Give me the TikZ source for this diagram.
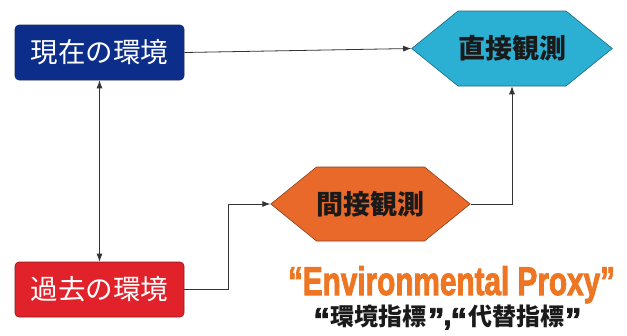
\documentclass[tikz,border=0pt]{standalone}
\usepackage{fontspec}
\usepackage{graphicx}
\usetikzlibrary{arrows.meta,shapes.symbols}
\setmainfont{Liberation Sans}
\newfontfamily\jp{Noto Sans CJK JP}
\newfontfamily\heavy{Liberation Sans}[BoldFeatures={FakeBold=2.5}]
\newcommand\bigq[1]{\raisebox{-6pt}[18pt][0pt]{\fontsize{33}{33}\selectfont\heavy\bfseries #1}}
\newcommand\jcomma{{\fontsize{29}{29}\selectfont\heavy\bfseries ,}}
\definecolor{navy}{HTML}{0C2E8A}
\definecolor{navyedge}{HTML}{1A2A60}
\definecolor{boxred}{HTML}{E1222A}
\definecolor{rededge}{HTML}{8A1A1A}
\definecolor{cyanhex}{HTML}{2BB0D3}
\definecolor{orangehex}{HTML}{E8692A}
\definecolor{proxyorange}{HTML}{EE7623}
\definecolor{linegray}{HTML}{333333}
\definecolor{hextext}{HTML}{1A1A1A}
\tikzset{
  envbox/.style={rectangle, rounded corners=4pt, minimum width=169pt, minimum height=55pt,
    inner sep=0pt, draw=#1, line width=0.6pt, text=white, font=\jp\fontsize{27.5}{27.5}\selectfont},
  hexnode/.style={signal, signal to=east and west, signal pointer angle=78,
    minimum width=196pt, minimum height=75pt, inner sep=0pt, draw=#1, line width=0.6pt,
    text=hextext, font=\jp\bfseries\fontsize{27}{27}\selectfont},
  conn/.style={draw=linegray, line width=0.8pt, -{Latex[length=8pt,width=6pt]}},
}
\begin{document}
\begin{tikzpicture}[x=1pt,y=-1pt]
\useasboundingbox (0,0) rectangle (627,335);
\node[envbox=navyedge, fill=navy] (now) at (99.5,52.5) {現在の環境};
\node[envbox=rededge, fill=boxred] (past) at (99.5,289.5) {過去の環境};
\node[hexnode=cyanhex!60!black, fill=cyanhex] (direct) at (512,48.5) {直接観測};
\node[hexnode=orangehex!60!black, fill=orangehex, minimum width=195pt, minimum height=74pt] (indirect) at (370.5,204) {間接観測};
\draw[conn] (now.east) -- (direct.west);
\draw[conn, {Latex[length=8pt,width=6pt]}-{Latex[length=8pt,width=6pt]}] (now.south) -- (past.north);
\draw[conn] (past.east) -- ++(44,0) |- (indirect.west);
\draw[conn] (indirect.east) -| (direct.south);
\node[anchor=base, inner sep=0pt, text=proxyorange] (proxy) at (451.5,295)
  {\resizebox{327pt}{29pt}{\heavy\bfseries “Environmental Proxy”}};
\node[anchor=base, inner sep=0pt, text=hextext] (proxyjp) at (447.5,325)
  {\jp\bfseries\fontsize{24}{24}\selectfont \bigq{“}\kern1pt環境指標\kern1pt\bigq{”}\kern-1pt\jcomma\kern-1pt\bigq{“}\kern1pt代替指標\kern1pt\bigq{”}};
\end{tikzpicture}
\end{document}
